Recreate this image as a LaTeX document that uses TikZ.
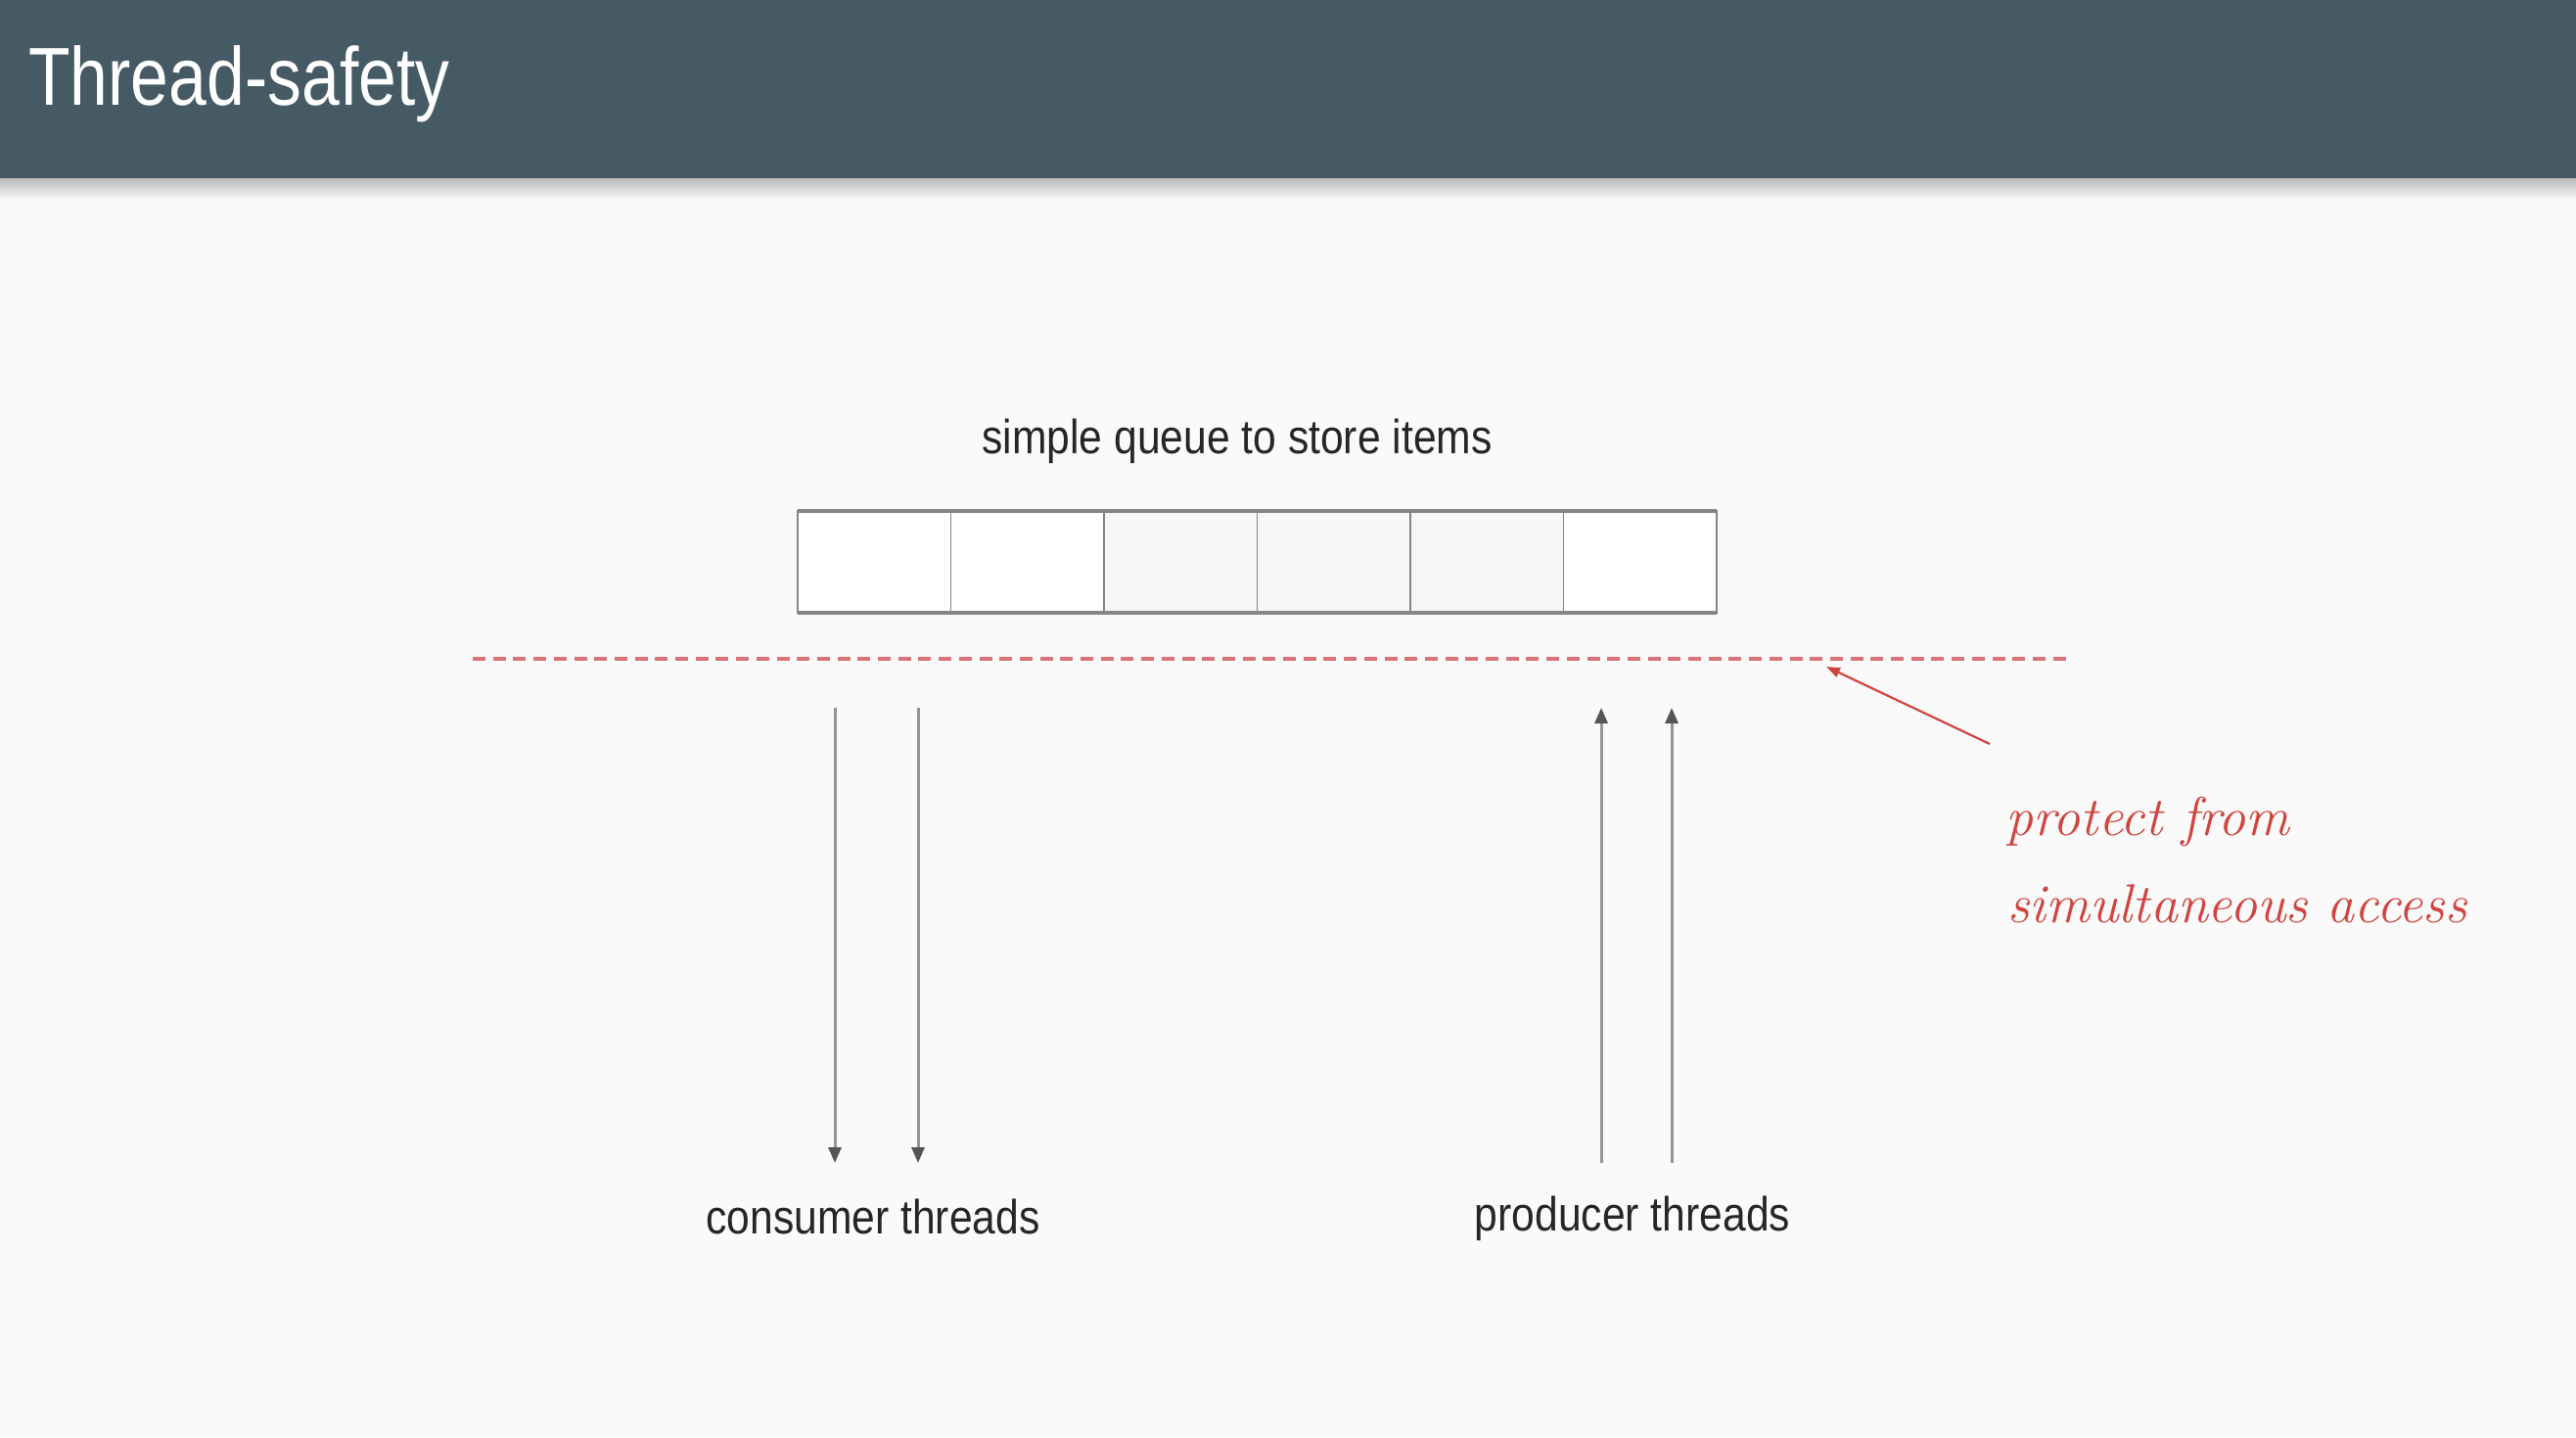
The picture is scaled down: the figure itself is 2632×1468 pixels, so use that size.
\documentclass[tikz,border=0pt]{standalone}
\usepackage{fontspec}
\newfontfamily\titlefont[FakeStretch=0.83]{Liberation Sans}
\newfontfamily\labelfont[FakeStretch=0.87]{Liberation Sans}
\usetikzlibrary{arrows.meta}
\definecolor{hdr}{HTML}{465A65}
\definecolor{bg}{HTML}{FAFAFA}
\definecolor{qline}{HTML}{858585}
\definecolor{arrline}{HTML}{959595}
\definecolor{arrhead}{HTML}{555555}
\definecolor{redtxt}{HTML}{D0453F}
\definecolor{reddash}{HTML}{DA7378}
\definecolor{txt}{HTML}{262626}
\definecolor{cellgray}{HTML}{F7F7F7}
\tikzset{
  cell/.style={draw=qline, line width=0.9pt, minimum width=78.25pt, minimum height=52pt, inner sep=0pt, outer sep=0pt},
  lbl/.style={anchor=base, inner sep=0pt, text=txt, font=\labelfont\fontsize{24.5}{29}\selectfont},
  thread/.style={draw=arrline, line width=1.5pt, -{Triangle[length=8pt,width=6.5pt,color=arrhead]}},
  hand/.style={anchor=base west, inner sep=0pt, text=redtxt, font=\rmfamily\itshape\fontsize{28}{33}\selectfont},
  redarrow/.style={draw=redtxt, line width=1.1pt, -{Triangle[length=7pt,width=5pt]}},
  guard/.style={draw=reddash, line width=1.6pt, dash pattern=on 6.5pt off 3.85pt}
}
\begin{document}
\begin{tikzpicture}[x=0.5pt,y=-0.5pt]
\fill[bg] (0,0) rectangle (2632,1468);
\useasboundingbox (0,0) rectangle (2632,1468);
\shade[top color=black!28, bottom color=bg] (0,182) rectangle (2632,204);
\fill[hdr] (0,0) rectangle (2632,182);
\node[anchor=base west, inner sep=0pt, text=white, font=\titlefont\fontsize{42}{50}\selectfont] (title) at (29,107) {Thread-safety};

% queue
\node[lbl] (qlabel) at (1264,463) {simple queue to store items};
\node[cell, fill=white]    (q1) at (893.25,574) {};
\node[cell, fill=white]    (q2) at (1049.75,574) {};
\node[cell, fill=cellgray] (q3) at (1206.25,574) {};
\node[cell, fill=cellgray] (q4) at (1362.75,574) {};
\node[cell, fill=cellgray] (q5) at (1519.25,574) {};
\node[cell, fill=white]    (q6) at (1675.75,574) {};
\draw[qline, line width=1.4pt] (q1.north west) rectangle (q6.south east);
\draw[qline, line width=2pt] (q1.north west) -- (q6.north east) (q1.south west) -- (q6.south east);

% protection line
\coordinate (dl) at (483,673);
\coordinate (dr) at (2118,673);
\draw[guard] (dl) -- (dr);

% consumer threads
\coordinate (c1s) at (853,723);
\coordinate (c1e) at (853,1188);
\coordinate (c2s) at (938,723);
\coordinate (c2e) at (938,1188);
\draw[thread] (c1s) -- (c1e);
\draw[thread] (c2s) -- (c2e);
\node[lbl] (cons) at (892,1260) {consumer threads};

% producer threads
\coordinate (p1s) at (1636,1188);
\coordinate (p1e) at (1636,723);
\coordinate (p2s) at (1708,1188);
\coordinate (p2e) at (1708,723);
\draw[thread] (p1s) -- (p1e);
\draw[thread] (p2s) -- (p2e);
\node[lbl] (prod) at (1668,1257) {producer threads};

% annotation
\coordinate (rs) at (2033,760);
\coordinate (rt) at (1866,681);
\draw[redarrow] (rs) -- (rt);
\node[hand] (note1) at (2049,853) {protect from};
\node[hand] (note2) at (2051,942) {simultaneous access};
\end{tikzpicture}
\end{document}
